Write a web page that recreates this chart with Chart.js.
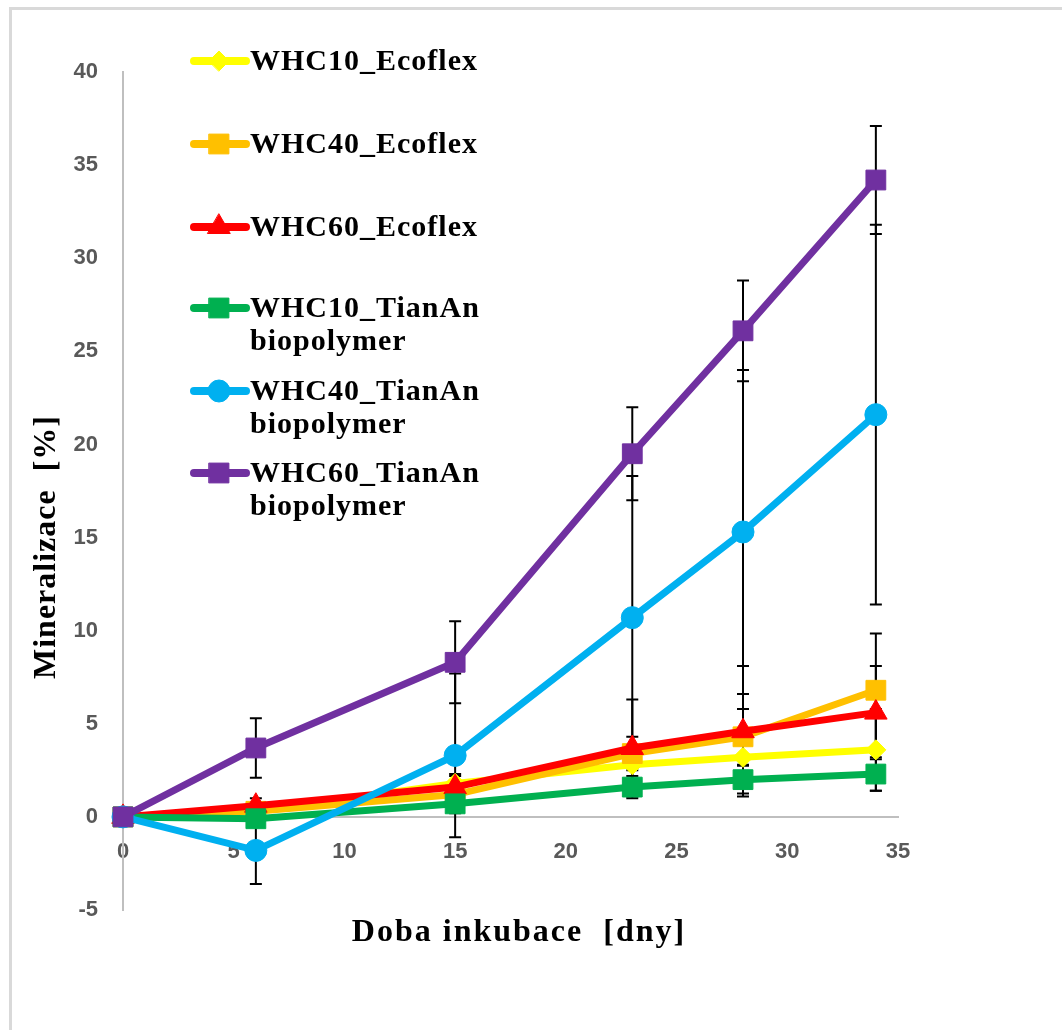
<!DOCTYPE html>
<html>
<head>
<meta charset="utf-8">
<title>Mineralizace</title>
<script src="https://cdn.jsdelivr.net/npm/chart.js@4.4.1/dist/chart.umd.min.js"></script>
<style>
    html, body { margin: 0; padding: 0; overflow: hidden; background: #fff; }
    #marco {
        position: absolute; left: 9px; top: 7px; width: 1200px; height: 1200px;
        border-left: 3px solid #d9d9d9; border-top: 3px solid #d9d9d9;
    }
    #grafico { position: absolute; left: 0; top: 0; }
</style>
</head>
<body>
<div id="marco"></div>
<canvas id="grafico" width="1062" height="1030"></canvas>
<script>
// Doba inkubace [dny]
const dny = [0, 6, 15, 23, 28, 34];

// Mineralizace [%] for each series
const whc10Ecoflex = [0, 0.3, 1.8, 2.8, 3.2, 3.6];
const whc40Ecoflex = [0, 0.3, 1.2, 3.4, 4.3, 6.8];
const whc60Ecoflex = [0, 0.6, 1.6, 3.7, 4.6, 5.6];
const whc10TianAn = [0, -0.1, 0.7, 1.6, 2.0, 2.3];
const whc40TianAn = [0, -1.8, 3.3, 10.7, 15.3, 21.6];
const whc60TianAn = [0, 3.7, 8.3, 19.5, 26.1, 34.2];

// error bars (+/-)
const errWhc10Ecoflex = [0, 0.3, 0.5, 0.8, 1.0, 2.2];
const errWhc40Ecoflex = [0, 0.4, 0.6, 0.9, 1.5, 3.05];
const errWhc60Ecoflex = [0, 0.4, 0.6, 2.6, 3.5, 2.5];
const errWhc10TianAn = [0, 0.3, 0.5, 0.6, 0.75, 0.9];
const errWhc40TianAn = [0, 1.8, 4.4, 7.6, 8.7, 10.2];
const errWhc60TianAn = [0, 1.6, 2.2, 2.5, 2.7, 2.9];

const nazvy = [
    'WHC10_Ecoflex', 'WHC40_Ecoflex', 'WHC60_Ecoflex',
    'WHC10_TianAn biopolymer', 'WHC40_TianAn biopolymer', 'WHC60_TianAn biopolymer'
];
const xTicks = [0, 5, 10, 15, 20, 25, 30, 35];
const yTicks = [-5, 0, 5, 10, 15, 20, 25, 30, 35, 40];

document.addEventListener('DOMContentLoaded', () => {
    inicializarGrafico();
});

function inicializarGrafico() {
    const hodnoty = [whc10Ecoflex, whc40Ecoflex, whc60Ecoflex, whc10TianAn, whc40TianAn, whc60TianAn];
    const chyby = [errWhc10Ecoflex, errWhc40Ecoflex, errWhc60Ecoflex, errWhc10TianAn, errWhc40TianAn, errWhc60TianAn];
    const barvy = ['#FFFF00', '#FFC000', '#FF0000', '#00B050', '#00B0F0', '#7030A0'];
    const znacky = ['rectRot', 'rect', 'triangle', 'rect', 'circle', 'rect'];
    const velikosti = [10, 14, 13, 14, 11, 14];

    const datasets = hodnoty.map((vals, i) => ({
        label: nazvy[i],
        data: vals.map((v, j) => ({ x: dny[j], y: v })),
        errors: chyby[i],
        borderColor: barvy[i],
        backgroundColor: barvy[i],
        pointBackgroundColor: barvy[i],
        pointBorderColor: barvy[i],
        pointStyle: znacky[i],
        pointRadius: velikosti[i],
        pointBorderWidth: 1,
        borderWidth: 7,
        tension: 0,
        clip: false,
        order: hodnoty.length - i // later series on top
    }));

    // error bars under the lines
    const errorBars = {
        id: 'errorBars',
        beforeDatasetsDraw(chart) {
            const { ctx, scales: { x, y } } = chart;
            ctx.save();
            ctx.strokeStyle = '#000';
            ctx.lineWidth = 2;
            chart.data.datasets.forEach(ds => {
                ds.data.forEach((p, j) => {
                    const e = ds.errors[j];
                    if (!e) return;
                    const px = x.getPixelForValue(p.x);
                    const top = y.getPixelForValue(p.y + e);
                    const bot = y.getPixelForValue(p.y - e);
                    ctx.beginPath();
                    ctx.moveTo(px, top); ctx.lineTo(px, bot);
                    ctx.moveTo(px - 6, top); ctx.lineTo(px + 6, top);
                    ctx.moveTo(px - 6, bot); ctx.lineTo(px + 6, bot);
                    ctx.stroke();
                });
            });
            ctx.restore();
        }
    };

    // legend and axis titles drawn by hand
    const popisky = {
        id: 'popisky',
        afterDraw(chart) {
            const ctx = chart.ctx;
            const radky = [61, 144, 227, 308, 391, 473];
            ctx.save();
            chart.data.datasets.forEach((ds, i) => {
                const yy = radky[i];
                ctx.strokeStyle = ds.borderColor;
                ctx.lineWidth = 8;
                ctx.lineCap = 'round';
                ctx.beginPath();
                ctx.moveTo(194, yy); ctx.lineTo(246, yy);
                ctx.stroke();

                ctx.lineWidth = 1;
                ctx.fillStyle = ds.backgroundColor;
                Chart.helpers.drawPoint(ctx, {
                    pointStyle: ds.pointStyle,
                    radius: ds.pointRadius,
                    borderWidth: 1
                }, 219, yy);

                ctx.fillStyle = '#000';
                ctx.font = 'bold 30px "Liberation Serif"';
                ctx.letterSpacing = '1px';
                ctx.textAlign = 'left';
                ctx.textBaseline = 'alphabetic';
                const casti = ds.label.split(' ');
                casti.forEach((t, k) => ctx.fillText(t, 250, yy + 9 + k * 33));
            });

            ctx.font = 'bold 32px "Liberation Serif"';
            ctx.textAlign = 'center';
            ctx.textBaseline = 'middle';
            ctx.letterSpacing = '2px';
            ctx.fillText('Doba inkubace  [dny]', 519, 933);

            ctx.letterSpacing = '1px';
            ctx.translate(47, 547);
            ctx.rotate(-Math.PI / 2);
            ctx.fillText('Mineralizace  [%]', 0, 0);
            ctx.restore();
        }
    };

    const tickFont = { family: 'Liberation Sans', size: 22, weight: 'bold' };

    const ctx = document.getElementById('grafico').getContext('2d');
    new Chart(ctx, {
        type: 'line',
        data: { datasets },
        options: {
            responsive: false,
            animation: false,
            events: [],
            layout: { padding: { left: 0, top: 72, right: 164, bottom: 120 } },
            plugins: {
                legend: { display: false },
                tooltip: { enabled: false }
            },
            scales: {
                x: {
                    type: 'linear',
                    position: { y: 0 },
                    min: xTicks[0],
                    max: xTicks[xTicks.length - 1],
                    afterBuildTicks: s => { s.ticks = xTicks.map(v => ({ value: v })); },
                    afterFit: s => { s.height = 0; },
                    grid: { display: false, drawTicks: false },
                    border: { display: true, color: '#bfbfbf', width: 2 },
                    ticks: { font: tickFont, color: '#595959', padding: 22 }
                },
                y: {
                    type: 'linear',
                    min: yTicks[0],
                    max: yTicks[yTicks.length - 1],
                    afterBuildTicks: s => { s.ticks = yTicks.map(v => ({ value: v })); },
                    afterFit: s => { s.width = 123; },
                    grid: { display: false, drawTicks: false },
                    border: { display: true, color: '#bfbfbf', width: 2 },
                    ticks: { font: tickFont, color: '#595959', padding: 25 }
                }
            }
        },
        plugins: [errorBars, popisky]
    });
}
</script>
</body>
</html>
